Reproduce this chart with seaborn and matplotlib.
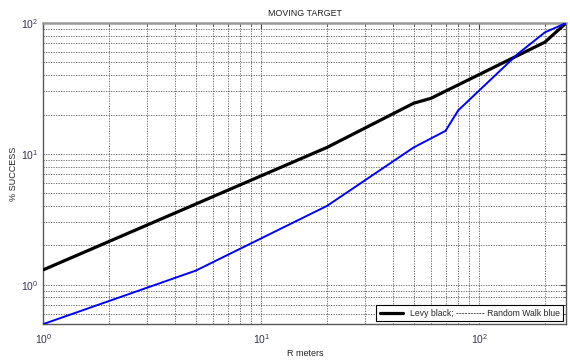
import matplotlib
matplotlib.use("Agg")
import matplotlib.pyplot as plt
import matplotlib.ticker as mticker
import seaborn as sns
import pandas as pd

# Search radius (m) vs. % success, moving target
levy_r = [1, 20, 50, 60, 200, 250]
levy_pct = [1.3, 11.2, 24.4, 26.6, 71.5, 100]

walk_r = [1, 5, 20, 50, 70, 80, 150, 200, 250]
walk_pct = [0.5, 1.28, 4.0, 11.2, 15.0, 21.5, 58, 85, 100]

title = "MOVING TARGET"
xlabel = "R meters"
ylabel = "% SUCCESS"
legend_label = "Levy black; ---------- Random Walk blue"

sns.set_style("white")
plt.rcParams["font.family"] = ["Liberation Sans", "DejaVu Sans"]
plt.rcParams["mathtext.default"] = "regular"

levy = pd.DataFrame({"r": levy_r, "pct": levy_pct})
walk = pd.DataFrame({"r": walk_r, "pct": walk_pct})

fig = plt.figure(figsize=(5.70, 3.61), dpi=100)
ax = fig.add_axes([0.0763, 0.1025, 0.9167, 0.8335])

sns.lineplot(data=levy, x="r", y="pct", color="black", linewidth=2.3,
             label=legend_label, ax=ax, zorder=3)
sns.lineplot(data=walk, x="r", y="pct", color="#0000ff", linewidth=1.4,
             legend=False, ax=ax, zorder=3)

ax.set_xscale("log")
ax.set_yscale("log")
ax.set_xlim(1, 250)
ax.set_ylim(0.5, 100)

ax.xaxis.set_major_locator(mticker.LogLocator(base=10))
ax.xaxis.set_minor_locator(mticker.LogLocator(base=10, subs=range(2, 10)))
ax.yaxis.set_major_locator(mticker.LogLocator(base=10))
ax.yaxis.set_minor_locator(mticker.LogLocator(base=10, subs=range(2, 10)))
ax.xaxis.set_minor_formatter(mticker.NullFormatter())
ax.yaxis.set_minor_formatter(mticker.NullFormatter())

ax.grid(which="both", linestyle=(0, (1.5, 1.5)), color="0.35", linewidth=0.6)
ax.tick_params(which="both", direction="in", top=True, right=True,
               colors="0.25", labelcolor="#333355", labelsize=7.5)
ax.tick_params(which="major", length=4)
ax.tick_params(which="minor", length=2.5)
ax.tick_params(axis="x", pad=6)

for side, sp in ax.spines.items():
    sp.set_visible(True)
    sp.set_color("0.35")
    sp.set_linewidth(1.0)
ax.spines["top"].set_color("0.6")
ax.spines["top"].set_linewidth(1.8)

ax.set_title(title, fontsize=6.4, color="#222222", pad=5)
ax.set_xlabel(xlabel, fontsize=6.5, color="#222222", labelpad=2)
ax.set_ylabel(ylabel, fontsize=6.5, color="#222222")
ax.yaxis.set_label_coords(-0.048, 0.5)

leg = ax.legend(loc="lower right", fontsize=6.2, frameon=True, fancybox=False,
                edgecolor="black", framealpha=1, handlelength=2.6,
                borderaxespad=0.3, borderpad=0.45)
leg.get_frame().set_linewidth(0.8)

fig.savefig("out.png", dpi=100)
